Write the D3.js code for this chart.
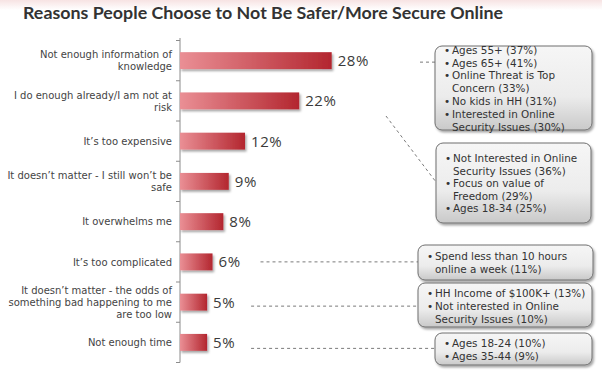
<!DOCTYPE html>
<html>
<head>
<meta charset="utf-8">
<script src="https://cdn.jsdelivr.net/npm/d3@7"></script>
<style>
  body { margin: 0; background: #fff; }
  svg { display: block; }
</style>
</head>
<body>
<div id="chart"></div>
<script>
const WIDTH = 602, HEIGHT = 373;

// data
const categories = [
  "Not enough information of\nknowledge",
  "I do enough already/I am not at\nrisk",
  "It’s too expensive",
  "It doesn’t matter - I still won’t be\nsafe",
  "It overwhelms me",
  "It’s too complicated",
  "It doesn’t matter - the odds of\nsomething bad happening to me\nare too low",
  "Not enough time"
];
const values = [28, 22, 12, 9, 8, 6, 5, 5];

const notes1 = [["Ages 55+ (37%)"], ["Ages 65+ (41%)"], ["Online Threat is Top", "Concern (33%)"], ["No kids in HH (31%)"], ["Interested in Online", "Security Issues (30%)"]];
const notes2 = [["Not Interested in Online", "Security Issues (36%)"], ["Focus on value of", "Freedom (29%)"], ["Ages 18-34 (25%)"]];
const notes3 = [["Spend less than 10 hours", "online a week  (11%)"]];
const notes4 = [["HH Income of $100K+ (13%)"], ["Not interested in Online", "Security Issues (10%)"]];
const notes5 = [["Ages 18-24 (10%)"], ["Ages 35-44 (9%)"]];

// layout of the callout boxes
const boxes = [
  { notes: notes1, x: 435, y: 46, w: 157, h: 84, first: 50, lh: 12.8 },
  { notes: notes2, x: 436, y: 143, w: 155, h: 80, first: 158.5, lh: 12.4 },
  { notes: notes3, x: 418, y: 245, w: 175, h: 35, first: 256.5, lh: 12.3 },
  { notes: notes4, x: 418, y: 283, w: 174, h: 44, first: 293, lh: 13.2 },
  { notes: notes5, x: 435, y: 333, w: 157, h: 32, first: 343.5, lh: 12.4 }
];

const svg = d3.select("#chart").append("svg")
  .attr("width", WIDTH).attr("height", HEIGHT);
const defs = svg.append("defs");

const topFade = defs.append("linearGradient").attr("id", "topfade").attr("x1", 0).attr("y1", 0).attr("x2", 0).attr("y2", 1);
topFade.append("stop").attr("offset", "0%").attr("stop-color", "#f7e3e3");
topFade.append("stop").attr("offset", "100%").attr("stop-color", "#ffffff");
svg.append("rect").attr("width", WIDTH).attr("height", 10).attr("fill", "url(#topfade)");

const barGrad = defs.append("linearGradient").attr("id", "bargrad");
barGrad.append("stop").attr("offset", "0%").attr("stop-color", "#ea8f95");
barGrad.append("stop").attr("offset", "100%").attr("stop-color", "#b3262f");

const boxGrad = defs.append("linearGradient").attr("id", "boxgrad").attr("x1", 0).attr("y1", 0).attr("x2", 0).attr("y2", 1);
boxGrad.append("stop").attr("offset", "0%").attr("stop-color", "#f6f6f6");
boxGrad.append("stop").attr("offset", "60%").attr("stop-color", "#ececec");
boxGrad.append("stop").attr("offset", "100%").attr("stop-color", "#c9c9c9");

const sh = defs.append("filter").attr("id", "shadow").attr("x", "-10%").attr("y", "-10%").attr("width", "130%").attr("height", "140%");
sh.append("feDropShadow").attr("dx", 1.5).attr("dy", 2).attr("stdDeviation", 1.2).attr("flood-color", "#000").attr("flood-opacity", 0.35);

// title
svg.append("text")
  .attr("x", 23).attr("y", 18.5)
  .attr("textLength", 480).attr("lengthAdjust", "spacingAndGlyphs")
  .style("font-family", "Lato, 'Open Sans', sans-serif")
  .style("font-weight", "bold").style("font-size", "17.5px")
  .attr("fill", "#333")
  .text("Reasons People Choose to Not Be Safer/More Secure Online");

const x = d3.scaleLinear().domain([0, 28]).range([180, 331.7]);
const y = d3.scaleBand().domain(categories).range([40.5, 362.5]).paddingInner(0.58).paddingOuter(0.29);
const step = y.step();

// axis line + ticks at band boundaries
svg.append("line").attr("x1", 180).attr("x2", 180).attr("y1", 38).attr("y2", 362.5)
  .attr("stroke", "#8c8c8c").attr("stroke-width", 1);
svg.selectAll(".tick").data(d3.range(categories.length + 1)).join("line")
  .attr("class", "tick")
  .attr("x1", 176).attr("x2", 180)
  .attr("y1", i => y.range()[0] + i * step).attr("y2", i => y.range()[0] + i * step)
  .attr("stroke", "#8c8c8c");

// bars
svg.selectAll(".bar").data(values).join("rect")
  .attr("class", "bar")
  .attr("x", x(0))
  .attr("y", (d, i) => y(categories[i]))
  .attr("width", d => x(d) - x(0))
  .attr("height", y.bandwidth())
  .attr("fill", "url(#bargrad)")
  .attr("filter", "url(#shadow)");

// value labels
svg.selectAll(".val").data(values).join("text")
  .attr("class", "val")
  .attr("x", d => x(d) + 6)
  .attr("y", (d, i) => y(categories[i]) + y.bandwidth() / 2 + 5.5)
  .style("font-family", "'Open Sans', sans-serif").style("font-size", "15px")
  .style("letter-spacing", "0.6px")
  .attr("fill", "#3a3a3a")
  .text(d => d + "%");

// category labels
categories.forEach((c, i) => {
  const lines = c.split("\n");
  const cy = y(c) + y.bandwidth() / 2;
  const lh = 12;
  const t = svg.append("text")
    .attr("text-anchor", "end")
    .style("font-family", "'DejaVu Sans', Verdana, sans-serif").style("font-size", "10px")
    .attr("fill", "#444");
  lines.forEach((l, j) => {
    t.append("tspan").attr("x", 172)
      .attr("y", cy + (j - (lines.length - 1) / 2) * lh + 3.7)
      .text(l);
  });
});

// connectors
const dash = { stroke: "#7a7a7a", "stroke-dasharray": "3,3", "stroke-width": 1 };
function conn(x1, y1, x2, y2) {
  const l = svg.append("line").attr("x1", x1).attr("y1", y1).attr("x2", x2).attr("y2", y2);
  Object.entries(dash).forEach(([k, v]) => l.attr(k, v));
}
const mid = i => y(categories[i]) + y.bandwidth() / 2;
conn(420, mid(0) + 1.5, 435, mid(0) + 1.5);
conn(386, 116, 436, 182);
conn(x(values[5]) + 48, mid(5), 418, mid(5));
conn(x(values[6]) + 44, mid(6) + 4, 418, mid(6) + 4);
conn(x(values[7]) + 44, mid(7) + 6, 435, mid(7) + 6);

// callout boxes
boxes.forEach(b => {
  svg.append("rect")
    .attr("x", b.x).attr("y", b.y).attr("width", b.w).attr("height", b.h)
    .attr("rx", 7).attr("ry", 7)
    .attr("fill", "url(#boxgrad)").attr("stroke", "#6f6f6f").attr("stroke-width", 1)
    .attr("filter", "url(#shadow)");
  const t = svg.append("text")
    .style("font-family", "'DejaVu Sans', Verdana, sans-serif").style("font-size", "10.4px")
    .attr("fill", "#333");
  let row = 0;
  b.notes.forEach(item => {
    item.forEach((l, j) => {
      const yy = b.first + row * b.lh + 3.8;
      if (j === 0) {
        t.append("tspan").attr("x", b.x + 9).attr("y", yy).text("•");
      }
      t.append("tspan").attr("x", b.x + 17).attr("y", yy).text(l);
      row++;
    });
  });
});
</script>
</body>
</html>
